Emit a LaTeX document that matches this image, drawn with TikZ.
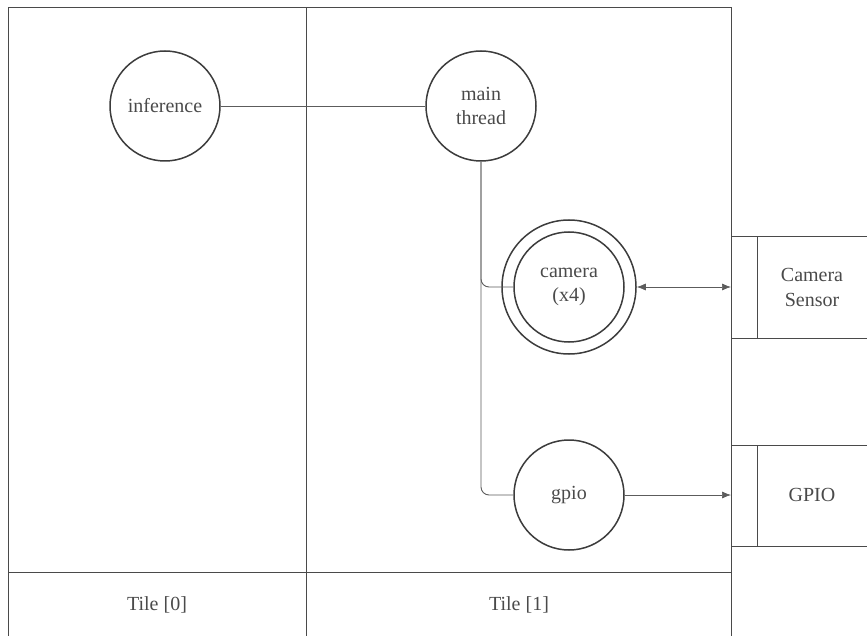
\documentclass[tikz,border=0pt]{standalone}
\usepackage{fontspec}
\setmainfont{Liberation Serif}
\usetikzlibrary{arrows.meta}
\definecolor{ink}{HTML}{3C3C3C}
\definecolor{frame}{HTML}{4A4A4A}
\definecolor{txt}{HTML}{4A4A4A}
\tikzset{
  task/.style={circle, draw=ink, line width=1.5pt, minimum size=110pt, inner sep=0pt,
               align=center, text=txt, font=\fontsize{20}{24}\selectfont},
  ring/.style={circle, draw=ink, line width=1.5pt, minimum size=134pt, inner sep=0pt},
  label/.style={text=txt, align=center, font=\fontsize{20}{25}\selectfont},
  frameline/.style={draw=frame, line width=1pt},
  wire/.style={draw=frame!90, line width=0.9pt},
  tip/.style={-{Latex[length=9pt,width=7pt]}},
  tips/.style={{Latex[length=9pt,width=7pt]}-{Latex[length=9pt,width=7pt]}}
}
\begin{document}
\begin{tikzpicture}[x=1pt,y=-1pt]
\useasboundingbox (0,0) rectangle (867,636);
\clip (0,0) rectangle (867,636);

% tile frame
\draw[frameline] (8,640) -- (8,8) -- (731,8) -- (731,640);
\draw[frameline] (306,8) -- (306,640);
\draw[frameline] (8,572) -- (731,572);

% peripheral boxes on the right
\draw[frameline] (731,237) -- (870,237) (731,338) -- (870,338) (757,237) -- (757,338);
\draw[frameline] (731,445) -- (870,445) (731,546) -- (870,546) (757,445) -- (757,546);
\coordinate (camport) at (731,287);
\coordinate (gpioport) at (731,495);
\node[label] (camsensor) at (812,287) {Camera\\Sensor};
\node[label] (gpiodev) at (812,495) {GPIO};

% tile labels
\node[label] (tile0) at (157,605) {Tile [0]};
\node[label] (tile1) at (519,605) {Tile [1]};

% tasks
\node[task] (inf) at (165,106) {inference};
\node[task] (main) at (481,106) {main\\thread};
\node[ring] (camring) at (569,287) {};
\node[task] (cam) at (569,287) {camera\\(x4)};
\node[task] (gpio) at (569,495) {gpio};

% connections
\draw[wire] (inf.east) -- (main.west);
\draw[wire, rounded corners=8pt] (main.south) |- (cam.west);
\draw[wire, rounded corners=8pt] (main.south) |- (gpio.west);
\draw[wire, tips, line width=0.7pt] (camring.east) -- (camport);
\draw[wire, tip, line width=0.7pt] (gpio.east) -- (gpioport);
\end{tikzpicture}
\end{document}
